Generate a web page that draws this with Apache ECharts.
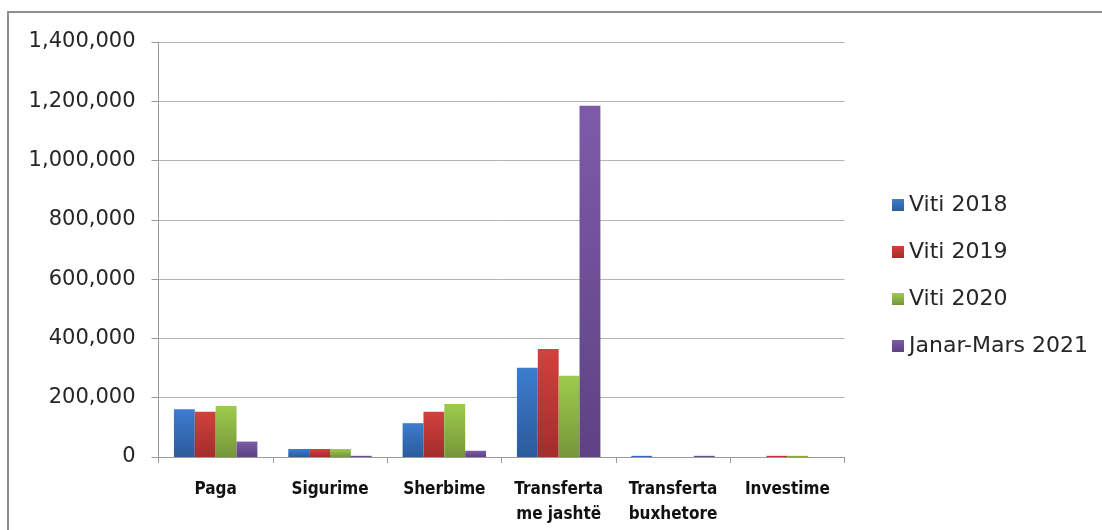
<!DOCTYPE html>
<html>
<head>
<meta charset="utf-8">
<style>
  html, body { margin: 0; padding: 0; background: #fff; }
  #chart { width: 1102px; height: 530px; }
</style>
<script src="https://cdn.jsdelivr.net/npm/echarts@6/dist/echarts.min.js"></script>
</head>
<body>
<div id="chart"></div>
<script>
  // kategorite e shpenzimeve
  var categories = ['Paga', 'Sigurime', 'Sherbime', 'Transferta\nme jashtë', 'Transferta\nbuxhetore', 'Investime'];
  var seriesNames = ['Viti 2018', 'Viti 2019', 'Viti 2020', 'Janar-Mars 2021'];

  var viti2018 = [161000, 27000, 114000, 301000, 4000, 0];
  var viti2019 = [153000, 27000, 153000, 364000, 0, 4000];
  var viti2020 = [172000, 27000, 179000, 274000, 0, 4000];
  var janarMars2021 = [52000, 4000, 21000, 1185000, 4000, 0];

  var yTicks = [0, 200000, 400000, 600000, 800000, 1000000, 1200000, 1400000];

  var colors = [
    ['#3d7dcf', '#2b5b9a'],
    ['#d3413d', '#a22d2b'],
    ['#9dcb4c', '#76963a'],
    ['#7d5ba9', '#5e4283']
  ];

  function grad(c) {
    return new echarts.graphic.LinearGradient(0, 0, 0, 1, [
      { offset: 0, color: c[0] },
      { offset: 1, color: c[1] }
    ]);
  }

  function fmt(v) {
    return String(v).replace(/\B(?=(\d{3})+(?!\d))/g, ',');
  }

  var allData = [viti2018, viti2019, viti2020, janarMars2021];

  var myChart = echarts.init(document.getElementById('chart'));
  var option = {
    animation: false,
    color: colors.map(function (c) { return c[0]; }),
    graphic: [{
      type: 'rect',
      shape: { x: 8, y: 12, width: 1200, height: 600 },
      style: { fill: 'none', stroke: '#8e8e8e', lineWidth: 2 },
      silent: true
    }],
    grid: {
      left: 158.5,
      right: 257.5,
      top: 42,
      bottom: 73,
      containLabel: false
    },
    legend: {
      orient: 'vertical',
      left: 887,
      top: 189,
      itemWidth: 12,
      itemHeight: 12,
      itemGap: 25,
      icon: 'rect',
      textStyle: {
        fontFamily: 'DejaVu Sans',
        fontSize: 22,
        color: '#262626',
        padding: [0, 0, 0, 0]
      },
      data: seriesNames
    },
    xAxis: {
      type: 'category',
      data: categories,
      axisLine: { lineStyle: { color: '#9a9a9a', width: 1 } },
      axisTick: { show: true, length: 6, lineStyle: { color: '#9a9a9a' } },
      axisLabel: {
        margin: 20,
        interval: 0,
        fontFamily: 'Liberation Sans Narrow, DejaVu Sans Condensed',
        fontWeight: 'bold',
        fontSize: 17,
        lineHeight: 25,
        color: '#111'
      }
    },
    yAxis: {
      type: 'value',
      min: yTicks[0],
      max: yTicks[yTicks.length - 1],
      interval: yTicks[1] - yTicks[0],
      axisLine: { show: true, lineStyle: { color: '#9a9a9a' } },
      axisTick: { show: true, length: 7, lineStyle: { color: '#9a9a9a' } },
      splitLine: { lineStyle: { color: '#b4b4b4' } },
      axisLabel: {
        margin: 23,
        fontFamily: 'DejaVu Sans',
        fontSize: 21,
        color: '#262626',
        formatter: function (v) { return fmt(v); }
      }
    },
    series: seriesNames.map(function (name, i) {
      return {
        name: name,
        type: 'bar',
        barGap: '0%',
        barCategoryGap: '27%',
        itemStyle: { color: grad(colors[i]) },
        data: allData[i]
      };
    })
  };
  myChart.setOption(option);
</script>
</body>
</html>
